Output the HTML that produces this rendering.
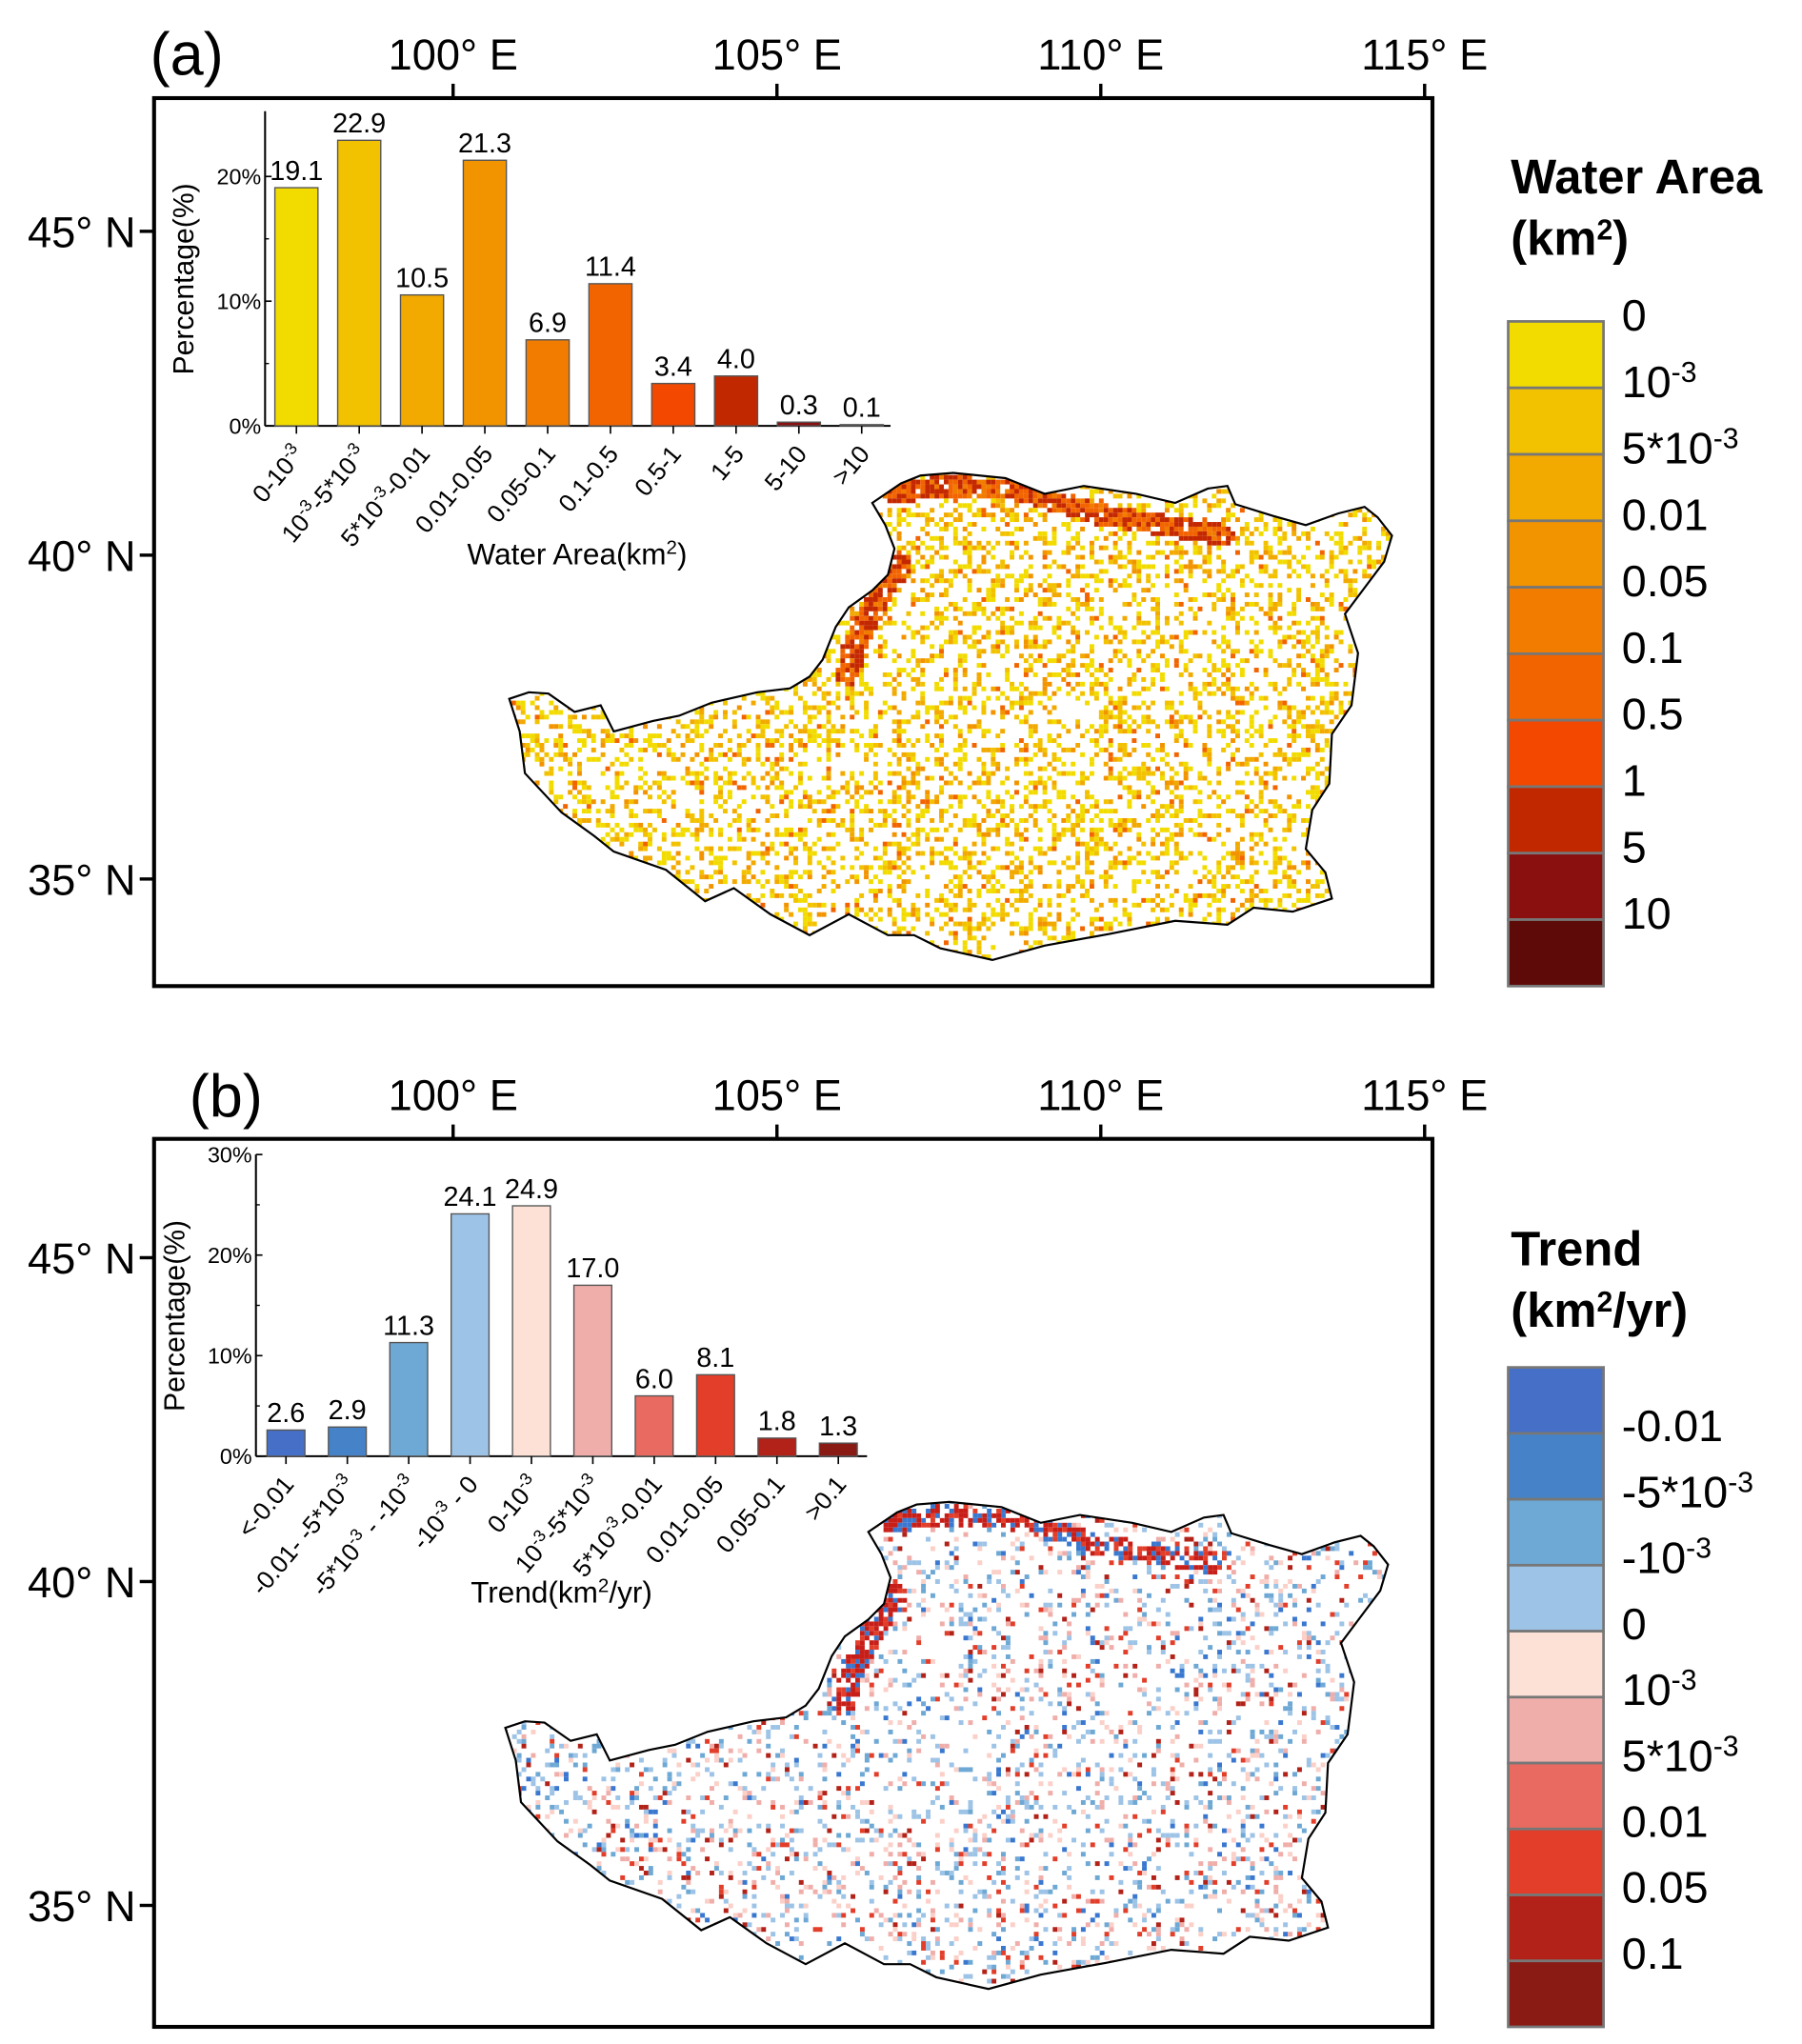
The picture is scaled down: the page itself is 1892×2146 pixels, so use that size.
<!DOCTYPE html>
<html><head><meta charset="utf-8">
<style>
html,body{margin:0;padding:0;background:#fff;}
svg{display:block;}
text{font-family:"Liberation Sans",Arial,sans-serif;}
</style></head>
<body>
<svg id="fig" width="1892" height="2146" viewBox="0 0 1380 1565" xmlns="http://www.w3.org/2000/svg">
<defs>
<clipPath id="clipA"><path id="clipApath" d=""/></clipPath>
<clipPath id="clipB"><path id="clipBpath" d=""/></clipPath>
</defs>
<rect x="0" y="0" width="1380" height="1565" fill="#fff"/>
<g id="root"></g>
</svg>
<script>
// ---------- DATA ----------
const catsA = ['0-10^-3','10^-3-5*10^-3','5*10^-3-0.01','0.01-0.05','0.05-0.1','0.1-0.5','0.5-1','1-5','5-10','>10'];
const valsA = [19.1, 22.9, 10.5, 21.3, 6.9, 11.4, 3.4, 4.0, 0.3, 0.1];
const ticksA = [0, 10, 20];
const catsB = ['<-0.01','-0.01- -5*10^-3','-5*10^-3 - -10^-3','-10^-3 - 0','0-10^-3','10^-3-5*10^-3','5*10^-3-0.01','0.01-0.05','0.05-0.1','>0.1'];
const valsB = [2.6, 2.9, 11.3, 24.1, 24.9, 17.0, 6.0, 8.1, 1.8, 1.3];
const ticksB = [0, 10, 20, 30];
const legendLabelsA = ['0','10^-3','5*10^-3','0.01','0.05','0.1','0.5','1','5','10'];
const legendLabelsB = ['-0.01','-5*10^-3','-10^-3','0','10^-3','5*10^-3','0.01','0.05','0.1'];
const lonTicks = [100, 105, 110, 115];
const latTicks = [45, 40, 35];

const colorsA = ['#f2dc00','#f2c200','#f2a900','#f29400','#f27c00','#f26400','#f24800','#c22800','#8a1010','#5e0a08'];
const colorsB = ['#4670c8','#4682c8','#6ea8d4','#9dc3e6','#fde1d6','#f0aeaa','#e96a60','#e23e2a','#b22218','#8a1a14'];

const NS='http://www.w3.org/2000/svg';
const root=document.getElementById('root');
function el(tag,attrs,parent){const e=document.createElementNS(NS,tag);for(const k in attrs)e.setAttribute(k,attrs[k]);(parent||root).appendChild(e);return e;}
function richText(t,str,supSize){
  const parts=str.split(/(\^-?\d+)/);
  parts.forEach(p=>{
    if(!p)return;
    if(p[0]==='^'){const s=document.createElementNS(NS,'tspan');s.setAttribute('baseline-shift','super');s.setAttribute('font-size',supSize);s.textContent=p.slice(1);t.appendChild(s);}
    else{const s=document.createElementNS(NS,'tspan');s.textContent=p;t.appendChild(s);}
  });
}

function panel(opts){
  const g=el('g',{});
  
  
  const F=opts.frame;
  const lonX=lon=>F.x0+229+(lon-100)*49.6;
  const latY=lat=>opts.lat45+(45-lat)*49.6;
  const L=el('text',{x:opts.letterX,y:opts.letterY,'font-size':46},g);
  L.textContent=opts.letter;
  
  
  const mapG=el('g',{},g);
  
  
  opts.drawMap(mapG);
  const fr=el('rect',{x:F.x0,y:F.y0,width:F.x1-F.x0,height:F.y1-F.y0,fill:'none',stroke:'#000','stroke-width':3},g);
  
  
  lonTicks.forEach(lon=>{
    const x=lonX(lon);
    el('line',{x1:x,y1:F.y0,x2:x,y2:F.y0-11,stroke:'#000','stroke-width':2.5},g);
    const t=el('text',{x:x,y:F.y0-22,'font-size':33,'text-anchor':'middle'},g);
    t.textContent=lon+'° E';
    
    
  });
  latTicks.forEach(lat=>{
    const y=latY(lat);
    el('line',{x1:F.x0,y1:y,x2:F.x0-11,y2:y,stroke:'#000','stroke-width':2.5},g);
    const t=el('text',{x:F.x0-14,y:y+12,'font-size':33,'text-anchor':'end'},g);
    t.textContent=lat+'° N';
    
    
  });
  const C=opts.chart;
  const ig=el('g',{},g);
  
  
  const yS=v=>C.y0-v*C.pxPer;
  const xS=i=>C.x0+C.first+i*C.step;
  el('line',{x1:C.x0,y1:C.y0,x2:C.x0,y2:C.top,stroke:'#000','stroke-width':1.5},ig);
  el('line',{x1:C.x0,y1:C.y0,x2:C.xEnd,y2:C.y0,stroke:'#000','stroke-width':1.5},ig);
  C.ticks.forEach(tv=>{
    const y=yS(tv);
    el('line',{x1:C.x0,y1:y,x2:C.x0+5,y2:y,stroke:'#000','stroke-width':1.2},ig);
    const t=el('text',{x:C.x0-3,y:y+6,'font-size':17,'text-anchor':'end'},ig);
    t.textContent=tv+'%';
    
    
  });
  for(let k=0;k<C.ticks.length-1;k++){
    const y=yS((C.ticks[k]+C.ticks[k+1])/2);
    el('line',{x1:C.x0,y1:y,x2:C.x0+3,y2:y,stroke:'#000','stroke-width':1},ig);
  }
  const yt=el('text',{x:0,y:0,'font-size':22,'text-anchor':'middle',transform:`translate(${C.x0-55},${(C.y0+C.top)/2+8}) rotate(-90)`},ig);
  yt.textContent='Percentage(%)';
  
  
  C.vals.forEach((v,i)=>{
    const cx=xS(i);
    const b=el('rect',{x:cx-C.bw/2,y:yS(v),width:C.bw,height:C.y0-yS(v),fill:C.colors[i],stroke:'#555','stroke-width':1},ig);
    
    
    const vt=el('text',{x:cx,y:yS(v)-6,'font-size':21,'text-anchor':'middle'},ig);
    vt.textContent=v.toFixed(1);
    
    
    el('line',{x1:cx,y1:C.y0,x2:cx,y2:C.y0+6,stroke:'#000','stroke-width':1.2},ig);
    const ct=el('text',{x:0,y:0,'font-size':19,'text-anchor':'end',transform:`translate(${cx+7},${C.y0+22}) rotate(-50)`},ig);
    richText(ct,C.cats[i],13);
    
    
  });
  const xt=el('text',{x:C.xTitleX,y:C.xTitleY,'font-size':23,'text-anchor':'middle'},ig);
  richText(xt,C.xTitle,15);
  
  
  const Lg=opts.legend;
  const lg=el('g',{},g);
  
  
  Lg.title.forEach((line,k)=>{
    const t=el('text',{x:1157,y:Lg.titleY+k*47,'font-size':37,'font-weight':'bold'},lg);
    richText(t,line,22);
    
    
  });
  const h=(Lg.y1-Lg.y0)/Lg.colors.length;
  Lg.colors.forEach((c,i)=>{
    const r=el('rect',{x:1155,y:Lg.y0+i*h,width:73,height:h,fill:c,stroke:'#777','stroke-width':2},lg);
    
    
  });
  Lg.labels.forEach((lab,i)=>{
    const y=Lg.y0+(i+Lg.labelOffset)*h+Lg.dy;
    const t=el('text',{x:1242,y:y,'font-size':34},lg);
    richText(t,lab,22);
    
    
  });
}

const outline=[[390,535],[405,530],[420,531],[440,545],[460,540],[470,560],[500,552],[520,548],[545,538],[580,530],[605,527],[620,518],[630,505],[640,480],[650,465],[668,452],[680,440],[685,420],[678,402],[668,385],[690,370],[705,364],[730,362],[770,366],[800,378],[830,372],[870,378],[900,385],[925,374],[940,372],[946,386],[975,395],[1000,402],[1025,393],[1045,388],[1055,396],[1066,410],[1060,430],[1045,450],[1030,470],[1040,500],[1035,540],[1020,562],[1018,600],[1005,620],[1000,650],[1015,668],[1020,688],[990,698],[960,695],[940,708],[900,705],[850,715],[800,724],[760,735],[720,726],[700,716],[680,716],[650,700],[620,716],[590,700],[562,680],[540,690],[510,666],[470,652],[455,640],[430,622],[402,592],[398,560]];
function outlinePath(dx,dy){return 'M'+outline.map(p=>(p[0]+dx)+','+(p[1]+dy)).join('L')+'Z';}
function hash(i,j,s){let h=(i*374761393+j*668265263+s*2246822519)>>>0;h=((h^(h>>>13))*1274126177)>>>0;return ((h^(h>>>16))>>>0)/4294967295;}
function inBand(x,y,pts,w){for(let k=0;k<pts.length-1;k++){const[a,b]=pts[k],[c,d]=pts[k+1];const vx=c-a,vy=d-b;let t=((x-a)*vx+(y-b)*vy)/(vx*vx+vy*vy);t=Math.max(0,Math.min(1,t));const px=a+t*vx-x,py=b+t*vy-y;if(px*px+py*py<w*w)return true;}return false;}
const river=[[683,376],[720,370],[780,374],[840,392],[900,402],[935,408]];
const westStrip=[[688,430],[668,462],[652,495],[648,515]];
function drawRaster(g,dx,dy,clipId,mode){
  const frag=document.createDocumentFragment();
  const sz=3.6;
  for(let x=388;x<1068;x+=sz){for(let y=360;y<738;y+=sz){
    const i=Math.round(x*10),j=Math.round(y*10);
    const r=hash(i,j,mode==='a'?1:2);
    let col=null;
    const band=inBand(x,y,river,8)||inBand(x,y,westStrip,9);
    if(mode==='a'){
      if(band){col=r<0.4?'#c42800':(r<0.75?'#f26400':(r<0.9?'#f27c00':null));}
      else if(r<0.33){const r2=hash(i,j,7);col=r2<0.4?'#f2dc00':r2<0.65?'#f2c200':r2<0.83?'#f2a900':r2<0.94?'#f29400':'#f26400';}
    }else{
      if(band){col=r<0.4?'#c81e18':(r<0.62?'#3a78d0':(r<0.75?'#e23e2a':null));}
      else if(r<0.2){const r2=hash(i,j,9);col=r2<0.25?'#9dc3e6':r2<0.42?'#6ea8d4':r2<0.5?'#3a78d0':r2<0.68?'#fbd0c8':r2<0.82?'#f0aeaa':r2<0.92?'#e23e2a':'#b22218';}
    }
    if(col){const e=document.createElementNS(NS,'rect');e.setAttribute('x',(x+dx).toFixed(1));e.setAttribute('y',(y+dy).toFixed(1));e.setAttribute('width',sz);e.setAttribute('height',sz);e.setAttribute('fill',col);frag.appendChild(e);}
  }}
  const rg=el('g',{'clip-path':'url(#'+clipId+')'},g);
  rg.appendChild(frag);
  const o=el('path',{d:outlinePath(dx,dy),fill:'none',stroke:'#000','stroke-width':1.6},g);
  
  
}
document.getElementById('clipApath').setAttribute('d',outlinePath(0,0));
document.getElementById('clipBpath').setAttribute('d',outlinePath(-3,788));

panel({name:'panel-a',letter:'(a)',letterX:115,letterY:57,frame:{x0:118,y0:75,x1:1097,y1:755},lat45:177,
  drawMap:g=>drawRaster(g,0,0,'clipA','a'),
  chart:{x0:203,y0:326,top:85,xEnd:682,pxPer:9.55,first:24,step:48.1,bw:33,vals:valsA,cats:catsA,colors:colorsA,ticks:ticksA,xTitle:'Water Area(km^2)',xTitleX:442,xTitleY:432},
  legend:{title:['Water Area','(km^2)'],titleY:148,y0:246,y1:755,colors:colorsA,labels:legendLabelsA,labelOffset:0,dy:7}
});
panel({name:'panel-b',letter:'(b)',letterX:145,letterY:855,frame:{x0:118,y0:872,x1:1097,y1:1552},lat45:963,
  drawMap:g=>drawRaster(g,-3,788,'clipB','b'),
  chart:{x0:196,y0:1115,top:884,xEnd:664,pxPer:7.7,first:23,step:47,bw:29,vals:valsB,cats:catsB,colors:colorsB,ticks:ticksB,xTitle:'Trend(km^2/yr)',xTitleX:430,xTitleY:1227},
  legend:{title:['Trend','(km^2/yr)'],titleY:969,y0:1047,y1:1552,colors:colorsB,labels:legendLabelsB,labelOffset:1,dy:6}
});
</script>
</body></html>
